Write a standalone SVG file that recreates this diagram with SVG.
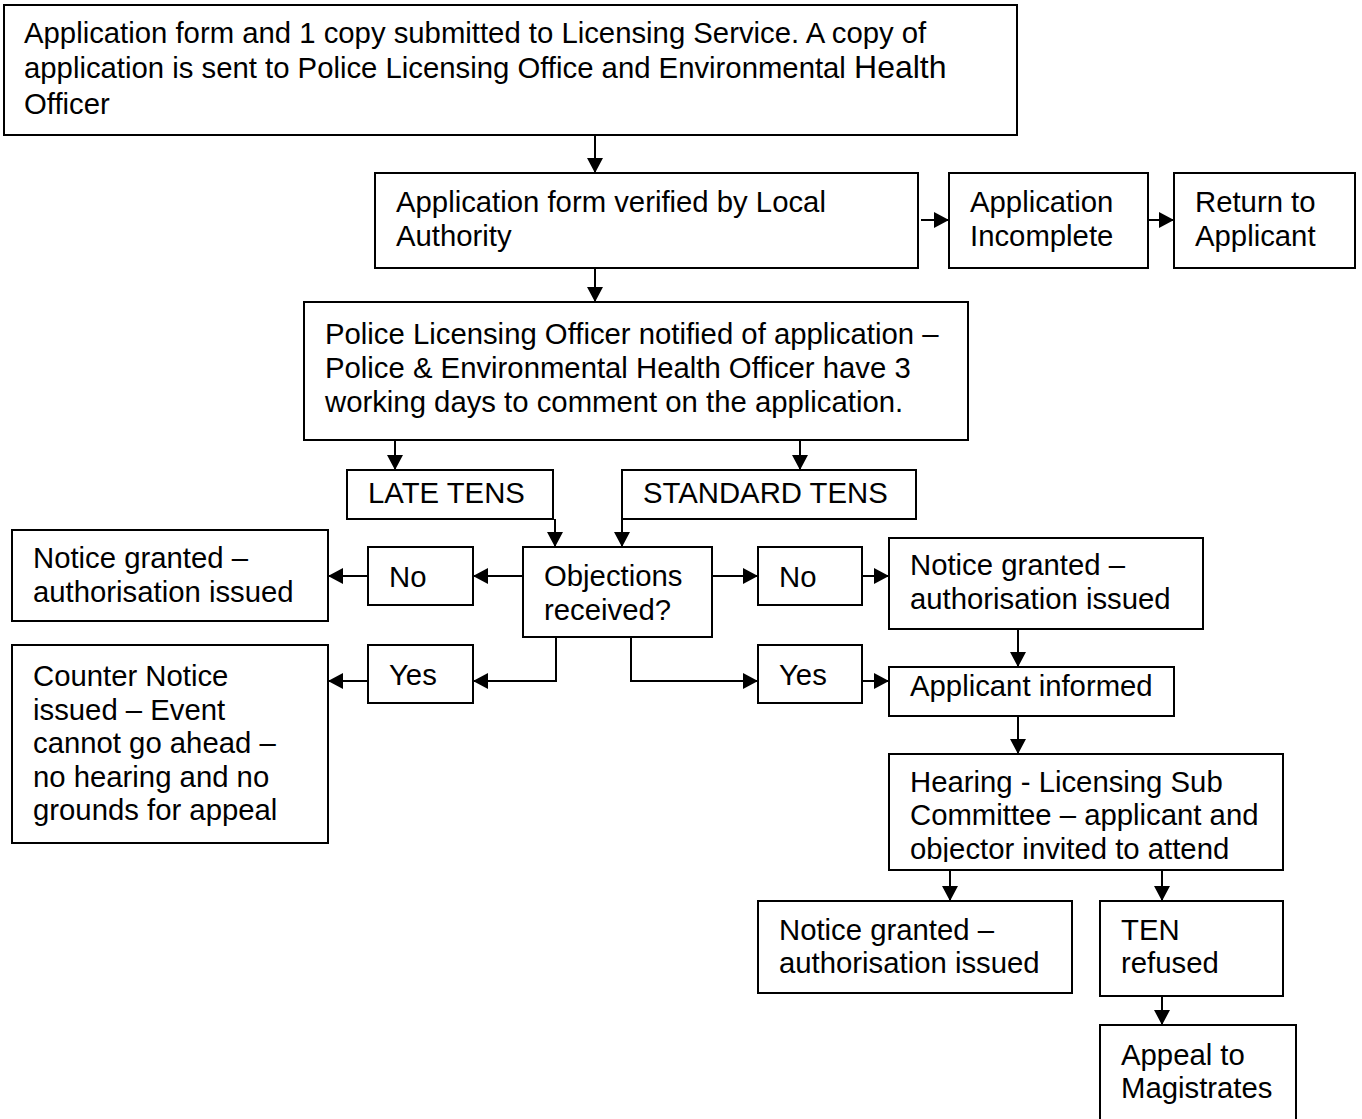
<svg xmlns="http://www.w3.org/2000/svg" width="1362" height="1119" viewBox="0 0 1362 1119">
  <style>
    .box { fill: #ffffff; stroke: #000000; stroke-width: 2; }
    .lbl { font-family: "Liberation Sans", Arial, sans-serif; font-size: 29.3px; fill: #000000; }
    .big { font-size: 32px; }
    .wire { fill: none; stroke: #000000; stroke-width: 2; }
  </style>
  <defs>
    <marker id="arrow" markerUnits="userSpaceOnUse" markerWidth="16" markerHeight="16" refX="15" refY="8" orient="auto">
      <path d="M0,0 L15,8 L0,16 z" fill="#000000"/>
    </marker>
    <clipPath id="hearingClip">
      <rect x="889" y="754" width="394" height="108"/>
    </clipPath>
  </defs>

  <rect width="1362" height="1119" fill="#ffffff"/>

  <!-- connectors -->
  <g id="connectors" class="wire">
    <line x1="595" y1="135" x2="595" y2="173" marker-end="url(#arrow)"/>
    <line x1="921" y1="220" x2="949" y2="220" marker-end="url(#arrow)"/>
    <line x1="1148" y1="220" x2="1174" y2="220" marker-end="url(#arrow)"/>
    <line x1="595" y1="268" x2="595" y2="302" marker-end="url(#arrow)"/>
    <line x1="395" y1="440" x2="395" y2="470" marker-end="url(#arrow)"/>
    <line x1="800" y1="440" x2="800" y2="470" marker-end="url(#arrow)"/>
    <line x1="555" y1="519" x2="555" y2="547" marker-end="url(#arrow)"/>
    <line x1="622" y1="519" x2="622" y2="547" marker-end="url(#arrow)"/>
    <line x1="523" y1="576" x2="473" y2="576" marker-end="url(#arrow)"/>
    <line x1="368" y1="576" x2="328" y2="576" marker-end="url(#arrow)"/>
    <line x1="712" y1="576" x2="758" y2="576" marker-end="url(#arrow)"/>
    <line x1="862" y1="576" x2="889" y2="576" marker-end="url(#arrow)"/>
    <polyline points="556,637 556,681 473,681" marker-end="url(#arrow)"/>
    <line x1="368" y1="681" x2="328" y2="681" marker-end="url(#arrow)"/>
    <polyline points="631,637 631,681 758,681" marker-end="url(#arrow)"/>
    <line x1="862" y1="681" x2="889" y2="681" marker-end="url(#arrow)"/>
    <line x1="1018" y1="629" x2="1018" y2="667" marker-end="url(#arrow)"/>
    <line x1="1018" y1="716" x2="1018" y2="754" marker-end="url(#arrow)"/>
    <line x1="950" y1="870" x2="950" y2="901" marker-end="url(#arrow)"/>
    <line x1="1162" y1="870" x2="1162" y2="901" marker-end="url(#arrow)"/>
    <line x1="1162" y1="996" x2="1162" y2="1025" marker-end="url(#arrow)"/>
  </g>

  <!-- nodes -->
  <g id="submitted">
    <rect class="box" x="4" y="5" width="1013" height="130"/>
    <text class="lbl" x="24" y="43">Application form and 1 copy submitted to Licensing Service. A copy of</text>
    <text class="lbl" x="24" y="78">application is sent to Police Licensing Office and Environmental <tspan class="big">Health</tspan></text>
    <text class="lbl" x="24" y="114">Officer</text>
  </g>

  <g id="verified">
    <rect class="box" x="375" y="173" width="543" height="95"/>
    <text class="lbl" x="396" y="212">Application form verified by Local</text>
    <text class="lbl" x="396" y="246">Authority</text>
  </g>

  <g id="incomplete">
    <rect class="box" x="949" y="173" width="199" height="95"/>
    <text class="lbl" x="970" y="212">Application</text>
    <text class="lbl" x="970" y="246">Incomplete</text>
  </g>

  <g id="return">
    <rect class="box" x="1174" y="173" width="181" height="95"/>
    <text class="lbl" x="1195" y="212">Return to</text>
    <text class="lbl" x="1195" y="246">Applicant</text>
  </g>

  <g id="notified">
    <rect class="box" x="304" y="302" width="664" height="138"/>
    <text class="lbl" x="325" y="344">Police Licensing Officer notified of application –</text>
    <text class="lbl" x="325" y="378">Police &amp; Environmental Health Officer have 3</text>
    <text class="lbl" x="325" y="412">working days to comment on the application.</text>
  </g>

  <g id="late-tens">
    <rect class="box" x="347" y="470" width="206" height="49"/>
    <text class="lbl" x="368" y="503">LATE TENS</text>
  </g>

  <g id="standard-tens">
    <rect class="box" x="622" y="470" width="294" height="49"/>
    <text class="lbl" x="643" y="503">STANDARD TENS</text>
  </g>

  <g id="objections">
    <rect class="box" x="523" y="547" width="189" height="90"/>
    <text class="lbl" x="544" y="586">Objections</text>
    <text class="lbl" x="544" y="620">received?</text>
  </g>

  <g id="late-no">
    <rect class="box" x="368" y="547" width="105" height="58"/>
    <text class="lbl" x="389" y="587">No</text>
  </g>

  <g id="late-granted">
    <rect class="box" x="12" y="530" width="316" height="91"/>
    <text class="lbl" x="33" y="568">Notice granted –</text>
    <text class="lbl" x="33" y="602">authorisation issued</text>
  </g>

  <g id="late-yes">
    <rect class="box" x="368" y="645" width="105" height="58"/>
    <text class="lbl" x="389" y="685">Yes</text>
  </g>

  <g id="counter-notice">
    <rect class="box" x="12" y="645" width="316" height="198"/>
    <text class="lbl" x="33" y="686">Counter Notice</text>
    <text class="lbl" x="33" y="720">issued – Event</text>
    <text class="lbl" x="33" y="753">cannot go ahead –</text>
    <text class="lbl" x="33" y="787">no hearing and no</text>
    <text class="lbl" x="33" y="820">grounds for appeal</text>
  </g>

  <g id="standard-no">
    <rect class="box" x="758" y="547" width="104" height="58"/>
    <text class="lbl" x="779" y="587">No</text>
  </g>

  <g id="standard-granted">
    <rect class="box" x="889" y="538" width="314" height="91"/>
    <text class="lbl" x="910" y="575">Notice granted –</text>
    <text class="lbl" x="910" y="609">authorisation issued</text>
  </g>

  <g id="standard-yes">
    <rect class="box" x="758" y="645" width="104" height="58"/>
    <text class="lbl" x="779" y="685">Yes</text>
  </g>

  <g id="informed">
    <rect class="box" x="889" y="667" width="285" height="49"/>
    <text class="lbl" x="910" y="696">Applicant informed</text>
  </g>

  <g id="hearing">
    <rect class="box" x="889" y="754" width="394" height="116"/>
    <g clip-path="url(#hearingClip)">
      <text class="lbl" x="910" y="792">Hearing - Licensing Sub</text>
      <text class="lbl" x="910" y="825">Committee – applicant and</text>
      <text class="lbl" x="910" y="859">objector invited to attend</text>
    </g>
  </g>

  <g id="hearing-granted">
    <rect class="box" x="758" y="901" width="314" height="92"/>
    <text class="lbl" x="779" y="940">Notice granted –</text>
    <text class="lbl" x="779" y="973">authorisation issued</text>
  </g>

  <g id="refused">
    <rect class="box" x="1100" y="901" width="183" height="95"/>
    <text class="lbl" x="1121" y="940">TEN</text>
    <text class="lbl" x="1121" y="973">refused</text>
  </g>

  <g id="appeal">
    <rect class="box" x="1100" y="1025" width="196" height="120"/>
    <text class="lbl" x="1121" y="1065">Appeal to</text>
    <text class="lbl" x="1121" y="1098">Magistrates</text>
  </g>
</svg>
